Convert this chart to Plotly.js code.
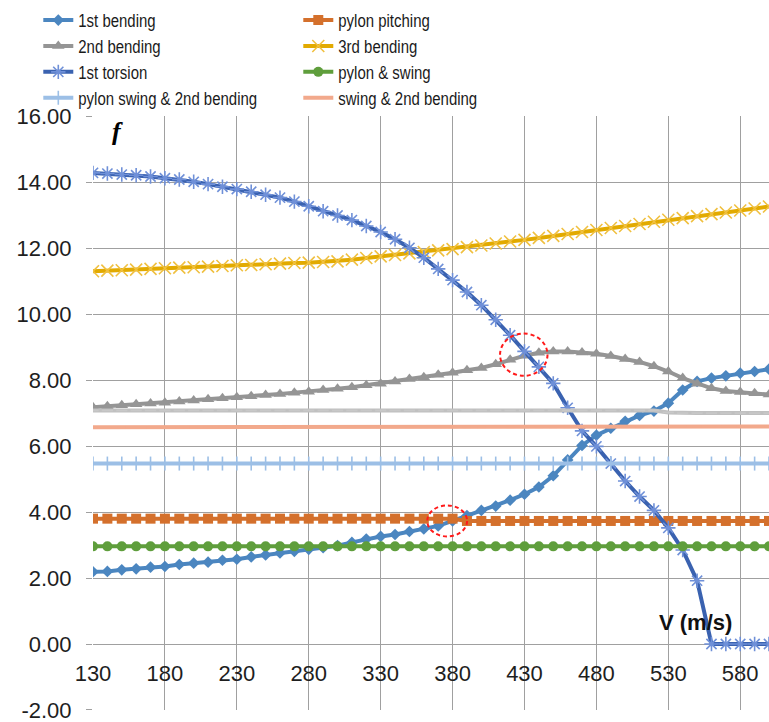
<!DOCTYPE html>
<html>
<head>
<meta charset="utf-8">
<script src="https://cdn.plot.ly/plotly-3.0.1.min.js"></script>
<style>html,body{margin:0;padding:0;background:#fff;}#chart{width:769px;height:722px;}</style>
</head>
<body>
<div id="chart"></div>
<script>
var speed = [130,140,150,160,170,180,190,200,210,220,230,240,250,260,270,280,290,300,310,320,330,340,350,360,370,380,390,400,410,420,430,440,450,460,470,480,490,500,510,520,530,540,550,560,570,580,590,600];

var bending1 = [2.19,2.20,2.25,2.28,2.33,2.35,2.41,2.45,2.48,2.54,2.57,2.64,2.70,2.76,2.81,2.87,2.92,2.98,3.08,3.18,3.26,3.32,3.41,3.49,3.58,3.73,3.89,4.05,4.18,4.36,4.54,4.76,5.10,5.58,6.02,6.33,6.54,6.75,6.93,7.06,7.30,7.70,7.96,8.06,8.13,8.21,8.26,8.33];

var pylonPitching = [3.80,3.80,3.80,3.80,3.80,3.80,3.80,3.80,3.80,3.80,3.80,3.80,3.80,3.80,3.80,3.80,3.80,3.80,3.80,3.80,3.80,3.80,3.80,3.80,3.80,3.80,3.73,3.73,3.73,3.73,3.73,3.73,3.73,3.73,3.73,3.73,3.73,3.73,3.73,3.73,3.73,3.73,3.73,3.73,3.73,3.73,3.73,3.73];

var bending2 = [7.18,7.21,7.24,7.27,7.29,7.31,7.35,7.38,7.42,7.45,7.48,7.51,7.55,7.58,7.62,7.65,7.70,7.74,7.78,7.84,7.89,7.96,8.03,8.09,8.16,8.22,8.30,8.37,8.48,8.62,8.74,8.83,8.87,8.87,8.84,8.80,8.73,8.64,8.55,8.42,8.26,8.06,7.89,7.75,7.67,7.64,7.60,7.56];

var bending3 = [11.30,11.32,11.33,11.35,11.37,11.39,11.41,11.42,11.44,11.46,11.48,11.49,11.51,11.53,11.55,11.56,11.58,11.60,11.65,11.70,11.75,11.79,11.84,11.88,11.93,11.97,12.03,12.08,12.14,12.20,12.25,12.31,12.37,12.43,12.49,12.55,12.61,12.67,12.73,12.80,12.86,12.91,12.97,13.03,13.08,13.14,13.20,13.26];

var torsion1 = [14.28,14.26,14.23,14.21,14.17,14.12,14.08,14.01,13.94,13.86,13.79,13.71,13.62,13.53,13.41,13.27,13.12,12.99,12.85,12.67,12.49,12.27,12.01,11.71,11.37,11.03,10.67,10.27,9.83,9.36,8.87,8.40,7.90,7.16,6.46,5.99,5.47,4.94,4.47,4.05,3.52,2.85,1.92,0.00,0.00,0.00,0.00,0.00];

var pylonSwing = [2.96,2.96,2.96,2.96,2.96,2.96,2.96,2.96,2.96,2.96,2.96,2.96,2.96,2.96,2.96,2.96,2.96,2.96,2.96,2.96,2.96,2.96,2.96,2.96,2.96,2.96,2.96,2.96,2.96,2.96,2.96,2.96,2.96,2.96,2.96,2.96,2.96,2.96,2.96,2.96,2.96,2.96,2.96,2.96,2.96,2.96,2.96,2.96];

var pylonSwingBending2 = [5.47,5.47,5.47,5.47,5.47,5.47,5.47,5.47,5.47,5.47,5.47,5.47,5.47,5.47,5.47,5.47,5.47,5.47,5.47,5.47,5.47,5.47,5.47,5.47,5.47,5.47,5.47,5.47,5.47,5.47,5.47,5.47,5.47,5.47,5.47,5.47,5.47,5.47,5.47,5.47,5.47,5.47,5.47,5.47,5.47,5.47,5.47,5.47];

var swingBending2 = [6.57,6.57,6.57,6.57,6.57,6.57,6.57,6.57,6.57,6.57,6.57,6.57,6.57,6.57,6.57,6.57,6.57,6.57,6.57,6.57,6.57,6.57,6.57,6.57,6.57,6.57,6.57,6.57,6.57,6.57,6.57,6.57,6.57,6.57,6.57,6.57,6.57,6.57,6.57,6.57,6.59,6.59,6.59,6.59,6.59,6.59,6.59,6.59];

var unlabeledMode = [7.08,7.08,7.08,7.08,7.08,7.08,7.08,7.08,7.08,7.08,7.08,7.08,7.08,7.08,7.08,7.08,7.08,7.08,7.08,7.08,7.08,7.08,7.08,7.08,7.08,7.08,7.08,7.08,7.08,7.08,7.08,7.08,7.08,7.08,7.08,7.08,7.08,7.08,7.08,7.08,7.02,7.00,7.00,7.00,7.00,7.00,7.00,7.00];

var seriesNames = ['1st bending','pylon pitching','2nd bending','3rd bending','1st torsion','pylon & swing','pylon swing & 2nd bending','swing & 2nd bending'];
var yTickVals = [-2,0,2,4,6,8,10,12,14,16];
var xTickVals = [130,180,230,280,330,380,430,480,530,580];

function tr(name, y, lineColor, sym, size, mColor, lw, show) {
  var outline = (sym.indexOf('open') >= 0);
  return {
    type: 'scatter', mode: 'lines+markers', name: name, x: speed, y: y,
    showlegend: show !== false,
    line: {color: lineColor, width: lw || 4},
    marker: {symbol: sym, size: size, color: mColor || lineColor,
             line: {color: mColor || lineColor, width: outline ? 1.6 : 0}}
  };
}

var data = [
  tr(seriesNames[0], bending1, '#4b86c0', 'diamond', 9),
  tr(seriesNames[1], pylonPitching, '#d4702c', 'square', 10),
  tr(seriesNames[2], bending2, '#959595', 'triangle-up', 11),
  tr(seriesNames[3], bending3, '#e2aa00', 'x-thin-open', 12, '#f0c040'),
  tr(seriesNames[4], torsion1, '#3a62b0', 'asterisk-open', 12, '#6f90d8'),
  tr(seriesNames[5], pylonSwing, '#5f9e3c', 'circle', 10),
  tr(seriesNames[6], pylonSwingBending2, '#9cbfe6', 'line-ns-open', 10),
  tr(seriesNames[7], swingBending2, '#f2a98c', 'line-ew-open', 6),
  tr('unlabeled', unlabeledMode, '#c0c0c0', 'line-ew-open', 8, '#c8c8c8', 4, false)
];

var axisFont = {family: 'Liberation Sans, Arial, sans-serif', size: 22, color: '#1e1e1e'};
var gridColor = '#a0a0a0';

var layout = {
  width: 769, height: 722,
  margin: {l: 93, r: 0, t: 116, b: 12},
  paper_bgcolor: '#ffffff', plot_bgcolor: '#ffffff',
  showlegend: true,
  legend: {
    orientation: 'h', xref: 'container', yref: 'container',
    x: 0.0498, y: 0.997, xanchor: 'left', yanchor: 'top',
    entrywidth: 215, entrywidthmode: 'pixels',
    font: {family: 'Liberation Sans, Arial, sans-serif', size: 17.6, color: '#1a1a1a'},
    bgcolor: 'rgba(0,0,0,0)', borderwidth: 0, itemwidth: 30
  },
  xaxis: {
    range: [130, 600], tickvals: xTickVals, ticktext: xTickVals.map(String),
    anchor: 'free', position: 2 / 18,
    showgrid: true, gridcolor: gridColor, gridwidth: 1,
    zeroline: false, showline: false, ticks: '', ticklabelstandoff: 14,
    tickfont: axisFont, automargin: false, ticklabeloverflow: 'allow'
  },
  yaxis: {
    range: [-2, 16], tickvals: yTickVals, ticktext: yTickVals.map(function(v){return v.toFixed(2);}),
    showgrid: true, gridcolor: gridColor, gridwidth: 1,
    zeroline: false, showline: false,
    ticks: 'outside', ticklen: 6, tickcolor: gridColor, ticklabelstandoff: 10,
    tickfont: axisFont, automargin: false, ticklabeloverflow: 'allow'
  },
  annotations: [
    {x: 147, y: 15.55, xref: 'x', yref: 'y', text: '<b><i>f</i></b>', showarrow: false,
     font: {family: 'Liberation Serif, serif', size: 26, color: '#000'}},
    {x: 549, y: 0.65, xref: 'x', yref: 'y', text: '<b>V (m/s)</b>', showarrow: false,
     font: {family: 'Liberation Sans, Arial, sans-serif', size: 22, color: '#111'}}
  ],
  shapes: [
    {type: 'circle', xref: 'x', yref: 'y', x0: 413, x1: 446, y0: 8.13, y1: 9.41,
     line: {color: '#ff1a1a', width: 2, dash: '4px,3px'}},
    {type: 'circle', xref: 'x', yref: 'y', x0: 362.4, x1: 390.1, y0: 3.26, y1: 4.20,
     line: {color: '#ff1a1a', width: 2, dash: '4px,3px'}}
  ]
};

Plotly.newPlot('chart', data, layout, {displayModeBar: false, staticPlot: true}).then(function(gd) {
  var texts = gd.querySelectorAll('.legendtext');
  for (var i = 0; i < texts.length; i++) {
    var t = texts[i];
    var len = t.getComputedTextLength();
    t.setAttribute('textLength', (len * 0.85).toFixed(1));
    t.setAttribute('lengthAdjust', 'spacingAndGlyphs');
  }
});
</script>
</body>
</html>
